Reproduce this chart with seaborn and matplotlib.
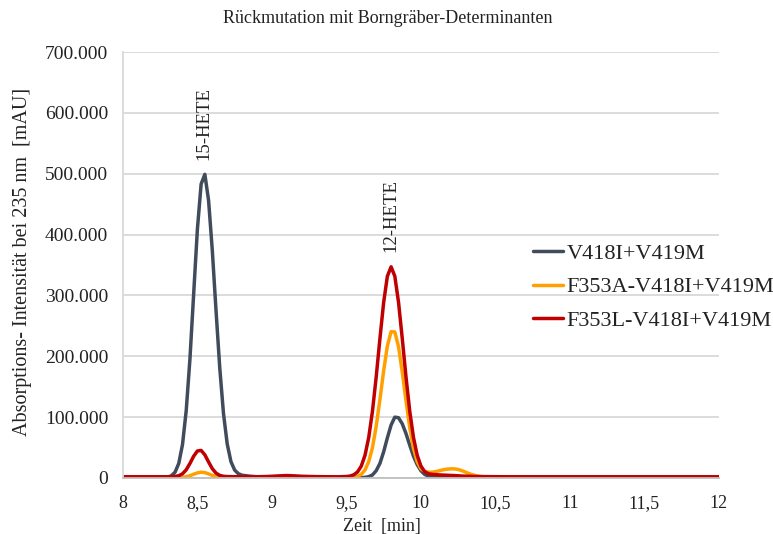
import numpy as np
import pandas as pd
import matplotlib
matplotlib.use("Agg")
import matplotlib.pyplot as plt
import seaborn as sns

# ---------------- data ----------------
zeit = [8.0, 8.1, 8.2, 8.25, 8.3, 8.325, 8.35, 8.375, 8.4, 8.425, 8.45, 8.475, 8.5, 8.525,
        8.55, 8.575, 8.6, 8.625, 8.65, 8.675, 8.7, 8.725, 8.75, 8.775, 8.8, 8.85, 8.9, 8.95,
        9.0, 9.05, 9.1, 9.15, 9.2, 9.3, 9.4, 9.45, 9.5, 9.525, 9.55, 9.575, 9.6, 9.625,
        9.65, 9.675, 9.7, 9.725, 9.75, 9.775, 9.8, 9.825, 9.85, 9.875, 9.9, 9.925, 9.95,
        9.975, 10.0, 10.025, 10.05, 10.075, 10.1, 10.125, 10.15, 10.175, 10.2, 10.225,
        10.25, 10.275, 10.3, 10.325, 10.35, 10.375, 10.4, 10.45, 10.5, 10.6, 10.8, 11.0,
        11.5, 12.0]

# intensities in thousands of mAU
v418i_v419m = [1, 1, 1, 1.2, 1.5, 3.5, 9.5, 24, 55, 111, 196, 303, 409, 483,
               499, 456, 374, 275, 181, 106, 56, 27, 13, 7, 4.5, 3, 2, 1.5,
               1.5, 2, 2.5, 2, 1.2, 0.8, 0.5, 0.5, 0.5, 0.5, 0.5, 0.5, 0.6, 1,
               2.2, 5, 12, 24, 43, 66, 87, 100, 99, 89, 73, 54, 36,
               22, 12, 6, 3, 1.8, 1.2, 1, 1, 0.8, 0.8, 0.7,
               0.7, 0.6, 0.6, 0.5, 0.5, 0.5, 0.5, 0.5, 0.5, 0.5, 0.5, 0.5,
               0.5, 0.5]

f353a = [0.5, 0.5, 0.5, 0.5, 0.5, 0.5, 0.5, 0.7, 1.1, 2.1, 3.8, 6.2, 8.4, 9.5,
         8.8, 6.7, 4.3, 2.4, 1.3, 0.8, 0.6, 0.5, 0.5, 0.5, 0.5, 0.5, 0.6, 0.8,
         1.2, 2, 2.5, 2, 1.2, 0.6, 0.5, 0.5, 0.6, 0.8, 1.2, 2.6, 6, 13.2,
         27, 50, 85, 129, 176, 217, 240.5, 240, 215.5, 174, 127, 83, 49,
         27, 15, 11, 9.5, 9.5, 10.5, 12, 13.5, 14.5, 15, 15,
         14, 12, 9.5, 7, 5, 3.5, 2.5, 1.5, 1, 0.6, 0.5, 0.5,
         0.5, 0.5]

f353l = [2, 2, 2, 2, 2, 2.2, 2.5, 3.7, 6.9, 13.5, 23.9, 35.8, 44.4, 45.3,
         38, 26.3, 15.3, 8, 4.2, 2.8, 2.3, 2.2, 2.1, 2, 2, 2, 2, 2.3,
         2.8, 3.5, 4, 3.5, 2.8, 2.2, 2, 2, 2.4, 3.2, 5.3, 10, 19.7, 37.4,
         66.8, 110, 166, 229, 288.5, 331.5, 347, 331.5, 288.5, 229, 166, 110, 66.8,
         37.4, 19.7, 10.5, 7, 6, 5.5, 5, 4.8, 4.5, 4.2, 4,
         3.6, 3.2, 3, 2.8, 2.6, 2.4, 2.3, 2.2, 2.1, 2, 2, 2,
         2, 2]

series_names = ["V418I+V419M", "F353A-V418I+V419M", "F353L-V418I+V419M"]
series_colors = ["#404B5C", "#FFA000", "#C00000"]

x_ticks = [8, 8.5, 9, 9.5, 10, 10.5, 11, 11.5, 12]
x_tick_labels = ["8", "8,5", "9", "9,5", "10", "10,5", "11", "11,5", "12"]
y_ticks = [0, 100, 200, 300, 400, 500, 600, 700]
y_tick_labels = ["0", "100.000", "200.000", "300.000", "400.000", "500.000", "600.000", "700.000"]

peak_labels = ["15-HETE", "12-HETE"]
peak_label_x = [8.545, 9.80]
peak_label_y = [522, 372]

# ---------------- figure ----------------
frames = []
for name, vals in zip(series_names, [v418i_v419m, f353a, f353l]):
    frames.append(pd.DataFrame({"Zeit": zeit, "Intensitaet": vals, "Serie": name}))
df = pd.concat(frames, ignore_index=True)

sns.set_theme(style="white")
plt.rcParams["font.family"] = ["Liberation Serif", "DejaVu Serif"]

fig = plt.figure(figsize=(7.73, 5.34), dpi=100)
ax = fig.add_axes([0.159, 0.1049, 0.771, 0.7977])

sns.lineplot(data=df, x="Zeit", y="Intensitaet", hue="Serie", hue_order=series_names,
             palette=series_colors, linewidth=2.5, ax=ax, sort=False, legend=True,
             solid_joinstyle="round", solid_capstyle="round")

ax.set_xlim(8, 12)
ax.set_ylim(0, 700)
ax.set_xticks(x_ticks)
ax.set_xticklabels(x_tick_labels, fontsize=13, color="#222222")
ax.set_yticks(y_ticks)
ax.set_yticklabels(y_tick_labels, fontsize=14, color="#222222")
ax.tick_params(axis="both", length=0)
ax.tick_params(axis="y", pad=10.5)
ax.tick_params(axis="x", pad=12)

ax.grid(axis="y", color="#D9D9D9", linewidth=1.3)
ax.grid(axis="x", visible=False)
ax.set_axisbelow(True)
for s in ["top", "right"]:
    ax.spines[s].set_visible(False)
ax.spines["left"].set_color("#D9D9D9")
ax.spines["left"].set_linewidth(1.3)
ax.spines["bottom"].set_color("#BFBFBF")
ax.spines["bottom"].set_linewidth(1.3)

ax.set_xlabel("Zeit  [min]", fontsize=13, color="#222222")
ax.xaxis.set_label_coords(0.435, -0.095)
ax.set_ylabel("Absorptions- Intensität bei 235 nm  [mAU]", fontsize=14.5, color="#222222")
ax.yaxis.set_label_coords(-0.153, 0.508)

fig.text(0.502, 0.966, "Rückmutation mit Borngräber-Determinanten", ha="center", va="center",
         fontsize=13, color="#222222")

for lab, px, py in zip(peak_labels, peak_label_x, peak_label_y):
    ax.text(px, py, lab, rotation=90, ha="center", va="bottom", fontsize=13.5, color="#222222")

leg = ax.legend(loc="upper left", bbox_to_anchor=(0.688, 0.551), frameon=False, fontsize=16,
                handlelength=1.35, handletextpad=0.15, labelspacing=0.585, borderaxespad=0,
                borderpad=0)
for line in leg.get_lines():
    line.set_linewidth(2.5)
for t in leg.get_texts():
    t.set_color("#222222")

fig.savefig("out.png", dpi=100)
